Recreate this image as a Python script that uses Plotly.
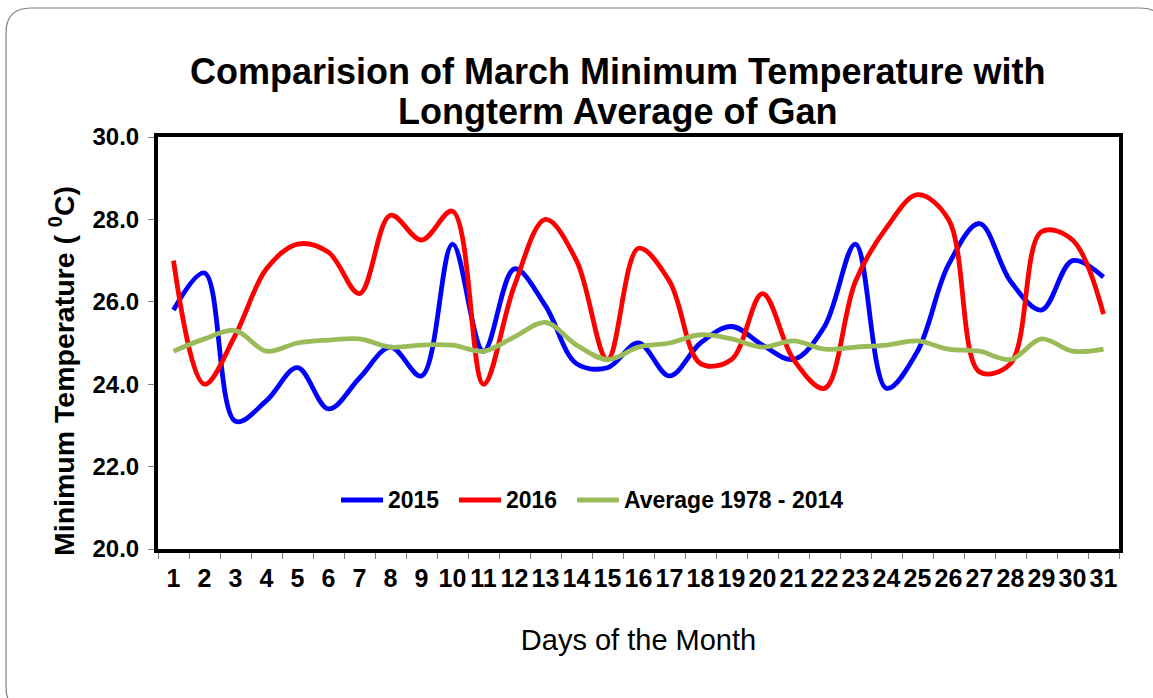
import plotly.graph_objects as go

days = [str(d) for d in range(1, 32)]
t2015 = [25.8, 26.7, 23.1, 23.6, 24.4, 23.4, 24.15, 24.9, 24.2, 27.4,
         24.8, 26.8, 25.9, 24.5, 24.4, 25.0, 24.2, 25.0, 25.4, 24.95,
         24.6, 25.4, 27.4, 23.9, 24.8, 26.9, 27.9, 26.5, 25.8, 27.0, 26.6]
t2016 = [27.0, 24.0, 25.2, 26.8, 27.4, 27.2, 26.2, 28.1, 27.5, 28.2,
         24.0, 26.4, 28.0, 27.0, 24.6, 27.3, 26.5, 24.5, 24.6, 26.2,
         24.6, 23.9, 26.5, 27.8, 28.6, 28.0, 24.3, 24.5, 27.7, 27.5, 25.7]
avg = [24.8, 25.1, 25.3, 24.8, 25.0, 25.07, 25.1, 24.9, 24.95, 24.95,
       24.8, 25.15, 25.5, 24.95, 24.6, 24.9, 25.0, 25.2, 25.1, 24.9,
       25.05, 24.85, 24.9, 24.95, 25.05, 24.85, 24.8, 24.6, 25.1, 24.8, 24.85]
y_ticks = [20, 22, 24, 26, 28, 30]
series_names = ["2015", "2016", "Average 1978 - 2014"]
series_colors = ["#0000FF", "#FF0000", "#9BBB59"]
title_lines = ["Comparision of March Minimum Temperature with", "Longterm Average of Gan"]

W, H = 1153, 698
L, R, T, B = 158, 34, 137, 149
pw, ph = W - L - R, H - T - B
FONT = "Liberation Sans, Arial, sans-serif"

fig = go.Figure()
for name, vals, col in zip(series_names, [t2015, t2016, avg], series_colors):
    fig.add_trace(go.Scatter(x=days, y=vals, name=name, mode="lines", showlegend=False,
                             line=dict(color=col, width=4.8, shape="spline", smoothing=1.0)))

def px(x):
    return (x - L) / pw

def py(y):
    return (H - B - y) / ph

# rounded slide border
x0, x1, y0, y1, r = 6, 1165, 8, 712, 25
path = (f"M {px(x0+r)},{py(y0)} L {px(x1-r)},{py(y0)} "
        f"Q {px(x1)},{py(y0)} {px(x1)},{py(y0+r)} L {px(x1)},{py(y1-r)} "
        f"Q {px(x1)},{py(y1)} {px(x1-r)},{py(y1)} L {px(x0+r)},{py(y1)} "
        f"Q {px(x0)},{py(y1)} {px(x0)},{py(y1-r)} L {px(x0)},{py(y0+r)} "
        f"Q {px(x0)},{py(y0)} {px(x0+r)},{py(y0)} Z")
shapes = [dict(type="path", path=path, xref="paper", yref="paper",
               line=dict(color="#808080", width=1.2), layer="below")]
annotations = [dict(text="<b>Minimum Temperature ( <sup>0</sup>C)</b>", textangle=-90,
                    xref="paper", yref="paper", x=px(62), y=py(371),
                    xanchor="center", yanchor="middle", showarrow=False,
                    font=dict(size=28.5, color="black", family=FONT))]

# chart title (two lines, tight spacing as in the reference)
for line, ty in zip(title_lines, [72, 112]):
    annotations.append(dict(text=f"<b>{line}</b>", xref="paper", yref="paper",
                            x=px(617.5), y=py(ty), xanchor="center", yanchor="middle",
                            showarrow=False, font=dict(size=36, color="black", family=FONT)))

# legend drawn inside the plot (line sample + label)
leg_y = 500
leg_x = [339, 457, 575]
for name, col, lx in zip(series_names, series_colors, leg_x):
    shapes.append(dict(type="line", xref="paper", yref="paper",
                       x0=px(lx + 2), x1=px(lx + 44), y0=py(leg_y), y1=py(leg_y),
                       line=dict(color=col, width=5)))
    annotations.append(dict(text=f"<b>{name}</b>", xref="paper", yref="paper",
                            x=px(lx + 47), y=py(leg_y), xanchor="left", yanchor="middle",
                            showarrow=False, font=dict(size=23, color="black", family=FONT)))

fig.update_layout(
    width=W, height=H,
    margin=dict(l=L, r=R, t=T, b=B, autoexpand=False),
    paper_bgcolor="white", plot_bgcolor="white",
    font=dict(family=FONT, color="black"),
    showlegend=False,
    shapes=shapes,
    annotations=annotations,
)

fig.update_xaxes(type="category", range=[-0.5, 30.5], tickmode="array", tickvals=days,
                 ticktext=[f"<b>{d}</b>" for d in days],
                 tickangle=0, automargin=False,
                 tickson="boundaries", ticks="outside", ticklen=6, tickcolor="#808080",
                 tickfont=dict(size=25), ticklabelstandoff=4, showgrid=False, zeroline=False,
                 showline=True, linecolor="black", linewidth=4, mirror=True,
                 title=dict(text="Days of the Month", font=dict(size=29), standoff=40))
fig.update_yaxes(range=[20, 30], tickmode="array", tickvals=y_ticks,
                 ticktext=[f"<b>{v:.1f}</b>" for v in y_ticks], automargin=False,
                 ticks="outside", ticklen=6, tickcolor="#808080",
                 tickfont=dict(size=24), ticklabelstandoff=4, showgrid=False, zeroline=False,
                 showline=True, linecolor="black", linewidth=4, mirror=True)

fig.write_html("out.html", config={"displayModeBar": False},
               post_script="document.body.style.margin='0';")
